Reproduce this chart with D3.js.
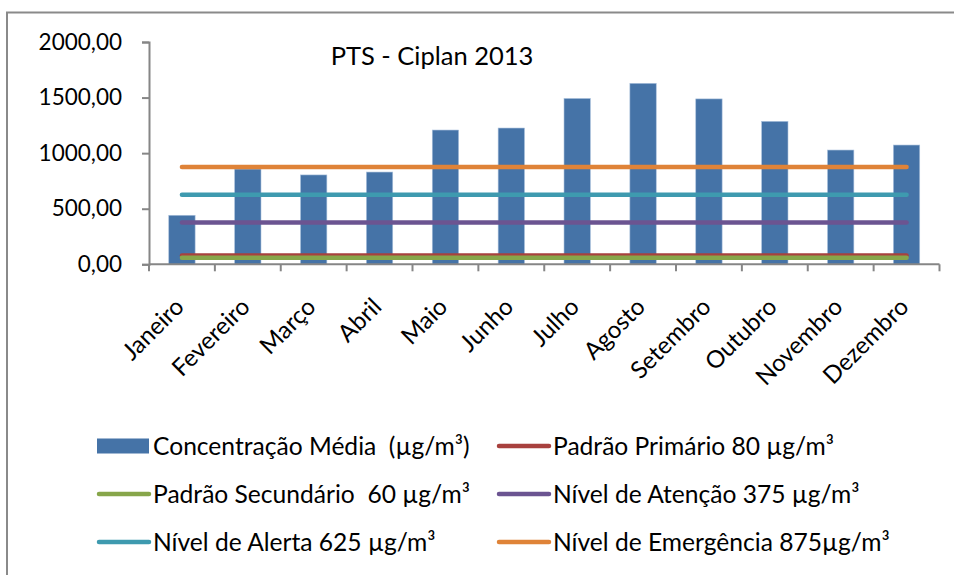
<!DOCTYPE html>
<html>
<head>
<meta charset="utf-8">
<script src="https://cdn.jsdelivr.net/npm/d3@7"></script>
<style>
  html, body { margin: 0; padding: 0; background: #fff; }
  svg { display: block; font-family: Lato, "Liberation Sans", sans-serif; }
  text { white-space: pre; }
</style>
</head>
<body>
<svg id="chart" width="954" height="575"></svg>
<script>
const months = ["Janeiro","Fevereiro","Março","Abril","Maio","Junho","Julho","Agosto","Setembro","Outubro","Novembro","Dezembro"];
const concentracao = [441, 857, 804, 830, 1208, 1226, 1492, 1628, 1488, 1286, 1028, 1073];
const padraoPrimario = [80,80,80,80,80,80,80,80,80,80,80,80];
const padraoSecundario = [60,60,60,60,60,60,60,60,60,60,60,60];
const nivelAtencao = [375,375,375,375,375,375,375,375,375,375,375,375];
const nivelAlerta = [625,625,625,625,625,625,625,625,625,625,625,625];
const nivelEmergencia = [875,875,875,875,875,875,875,875,875,875,875,875];
const yTicks = [0, 500, 1000, 1500, 2000];
const title = "PTS - Ciplan 2013";

const lineSeries = [
  {name: "Padrão Primário 80 µg/m³", values: padraoPrimario, color: "#A8413E"},
  {name: "Padrão Secundário  60 µg/m³", values: padraoSecundario, color: "#87A64A"},
  {name: "Nível de Atenção 375 µg/m³", values: nivelAtencao, color: "#6B5491"},
  {name: "Nível de Alerta 625 µg/m³", values: nivelAlerta, color: "#3E9AAF"},
  {name: "Nível de Emergência 875µg/m³", values: nivelEmergencia, color: "#DF8338"}
];
const barName = "Concentração Média  (µg/m³)";
const barColor = "#4573A7";

const svg = d3.select("#chart");
const axisColor = "#868686";

// outer chart border
svg.append("rect").attr("x", 7).attr("y", 12.5).attr("width", 960).attr("height", 600)
  .attr("fill", "none").attr("stroke", "#8a8a8a").attr("stroke-width", 2);

const x = d3.scaleBand().domain(months).range([149, 939.5]).paddingInner(0).paddingOuter(0);
const y = d3.scaleLinear().domain([0, 2000]).range([264.3, 42]);
const bw = x.bandwidth();

// bars
svg.append("g").selectAll("rect").data(months).join("rect")
  .attr("x", (d) => x(d) + bw * 0.3)
  .attr("width", bw * 0.4)
  .attr("y", (d, i) => y(concentracao[i]))
  .attr("height", (d, i) => y(0) - y(concentracao[i]))
  .attr("fill", barColor)
  .attr("stroke", "#a9c0dc").attr("stroke-width", 0.6);

// lines
const line = d3.line().x((d, i) => x(months[i]) + bw / 2).y((d) => y(d));
svg.append("g").selectAll("path").data(lineSeries).join("path")
  .attr("d", (s) => line(s.values))
  .attr("fill", "none")
  .attr("stroke", (s) => s.color)
  .attr("stroke-width", 4.5)
  .attr("stroke-linecap", "round");

// y axis
const yAxis = svg.append("g").attr("transform", "translate(149,0)")
  .call(d3.axisLeft(y).tickValues(yTicks).tickSize(7).tickPadding(20)
    .tickFormat((d) => d3.format(".2f")(d).replace(".", ",")));
yAxis.select(".domain").attr("stroke", axisColor).attr("stroke-width", 2);
yAxis.selectAll(".tick line").attr("stroke", axisColor).attr("stroke-width", 2);
yAxis.selectAll(".tick text").attr("font-size", 22.5).attr("fill", "#000")
  .attr("font-family", "Lato, sans-serif");

// x axis with ticks at category boundaries
const xAxisG = svg.append("g").attr("transform", "translate(0," + y(0) + ")");
xAxisG.append("line").attr("x1", 149).attr("x2", 939.5).attr("y1", 0).attr("y2", 0)
  .attr("stroke", axisColor).attr("stroke-width", 2);
const bounds = months.map((m) => x(m)).concat([x(months[months.length - 1]) + bw]);
xAxisG.selectAll("line.tk").data(bounds).join("line").attr("class", "tk")
  .attr("x1", (d) => d).attr("x2", (d) => d).attr("y1", 0).attr("y2", 7)
  .attr("stroke", axisColor).attr("stroke-width", 2);

xAxisG.selectAll("text").data(months).join("text")
  .attr("transform", (d) => "translate(" + (x(d) + bw / 2 + 3.5) + "," + 44 + ") rotate(-45)")
  .attr("text-anchor", "end")
  .attr("font-size", 24)
  .attr("fill", "#000")
  .text((d) => d);

// title
svg.append("text").attr("x", 432).attr("y", 65).attr("text-anchor", "middle")
  .attr("font-size", 25.5).attr("fill", "#000").text(title);

// legend
const legendItems = [
  {name: barName, type: "bar", color: barColor},
  lineSeries[0], lineSeries[1], lineSeries[2], lineSeries[3], lineSeries[4]
];
const colX = [97, 497];
const rowY = [446, 494, 542];
const lg = svg.append("g");
legendItems.forEach((it, i) => {
  const cx = colX[i % 2], cy = rowY[Math.floor(i / 2)];
  if (it.type === "bar") {
    lg.append("rect").attr("x", cx).attr("y", cy - 7.5).attr("width", 52).attr("height", 15).attr("fill", it.color);
  } else {
    lg.append("line").attr("x1", cx + 2).attr("x2", cx + 52).attr("y1", cy).attr("y2", cy)
      .attr("stroke", it.color).attr("stroke-width", 4.5).attr("stroke-linecap", "round");
  }
  lg.append("text").attr("x", cx + 56).attr("y", cy).attr("dy", "0.36em")
    .attr("font-size", 24.6).attr("fill", "#000").text(it.name);
});
</script>
</body>
</html>
